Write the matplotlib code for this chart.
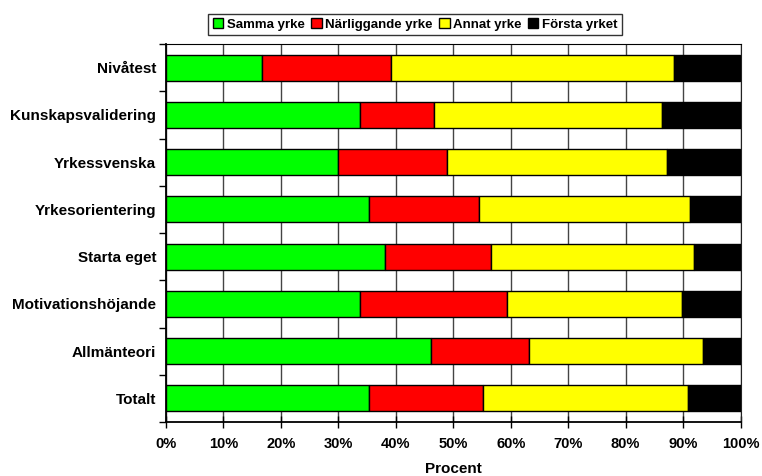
import matplotlib.pyplot as plt
import numpy as np
from matplotlib.ticker import FixedLocator, PercentFormatter

plt.rcParams['font.family'] = ['Liberation Sans', 'DejaVu Sans']
plt.rcParams['font.weight'] = 'bold'

categories = ['Nivåtest', 'Kunskapsvalidering', 'Yrkessvenska', 'Yrkesorientering',
              'Starta eget', 'Motivationshöjande', 'Allmänteori', 'Totalt']
samma = [16.7, 33.8, 29.9, 35.4, 38.2, 33.8, 46.1, 35.4]
narliggande = [22.4, 12.9, 19.0, 19.0, 18.4, 25.5, 17.0, 19.7]
annat = [49.3, 39.6, 38.3, 36.8, 35.3, 30.6, 30.3, 35.7]
forsta = [11.6, 13.7, 12.8, 8.8, 8.1, 10.1, 6.6, 9.2]

series = [('Samma yrke', samma, '#00ff00'),
          ('Närliggande yrke', narliggande, '#ff0000'),
          ('Annat yrke', annat, '#ffff00'),
          ('Första yrket', forsta, '#000000')]

fig = plt.figure(figsize=(7.62, 4.76), dpi=100)
ax = fig.add_axes([166 / 762, 1 - 422 / 476, 574.5 / 762, 378 / 476])

y = np.arange(len(categories))
left = np.zeros(len(categories))
handles = []
for name, vals, col in series:
    vals = np.array(vals)
    b = ax.barh(y, vals, left=left, height=0.55, color=col,
                edgecolor='black', linewidth=1, label=name, zorder=3)
    left += vals
    handles.append(b)

ax.set_xlim(0, 100)
ax.set_ylim(len(categories) - 0.5, -0.5)
ax.set_xticks(np.arange(0, 101, 10))
ax.xaxis.set_major_formatter(PercentFormatter(decimals=0))
ax.set_yticks(y)
ax.set_yticklabels(categories)
ax.yaxis.set_minor_locator(FixedLocator(np.arange(-0.5, len(categories) + 0.5, 1)))
ax.tick_params(axis='y', which='major', length=0, pad=7, labelsize=11)
ax.tick_params(axis='y', which='minor', length=5, width=1, direction='out')
ax.tick_params(axis='x', which='major', length=8, width=1, direction='inout',
               pad=7, labelsize=10.5)
ax.grid(axis='x', color='#444444', linewidth=1, zorder=0)
ax.set_axisbelow(True)
ax.set_xlabel('Procent', fontsize=11, fontweight='bold', labelpad=8)

for s in ['left', 'bottom']:
    ax.spines[s].set_linewidth(1.3)
ax.spines['top'].set_color('black')
ax.spines['right'].set_color('#222222')

fig.legend(handles=handles, loc='center', bbox_to_anchor=(415 / 762, 1 - 24.5 / 476),
           ncol=4, frameon=True, fancybox=False, edgecolor='black',
           handlelength=0.8, handleheight=0.8, handletextpad=0.25,
           columnspacing=0.5, borderpad=0.35, borderaxespad=0,
           prop={'weight': 'bold', 'size': 9.5})

fig.savefig('out.png', dpi=100)
